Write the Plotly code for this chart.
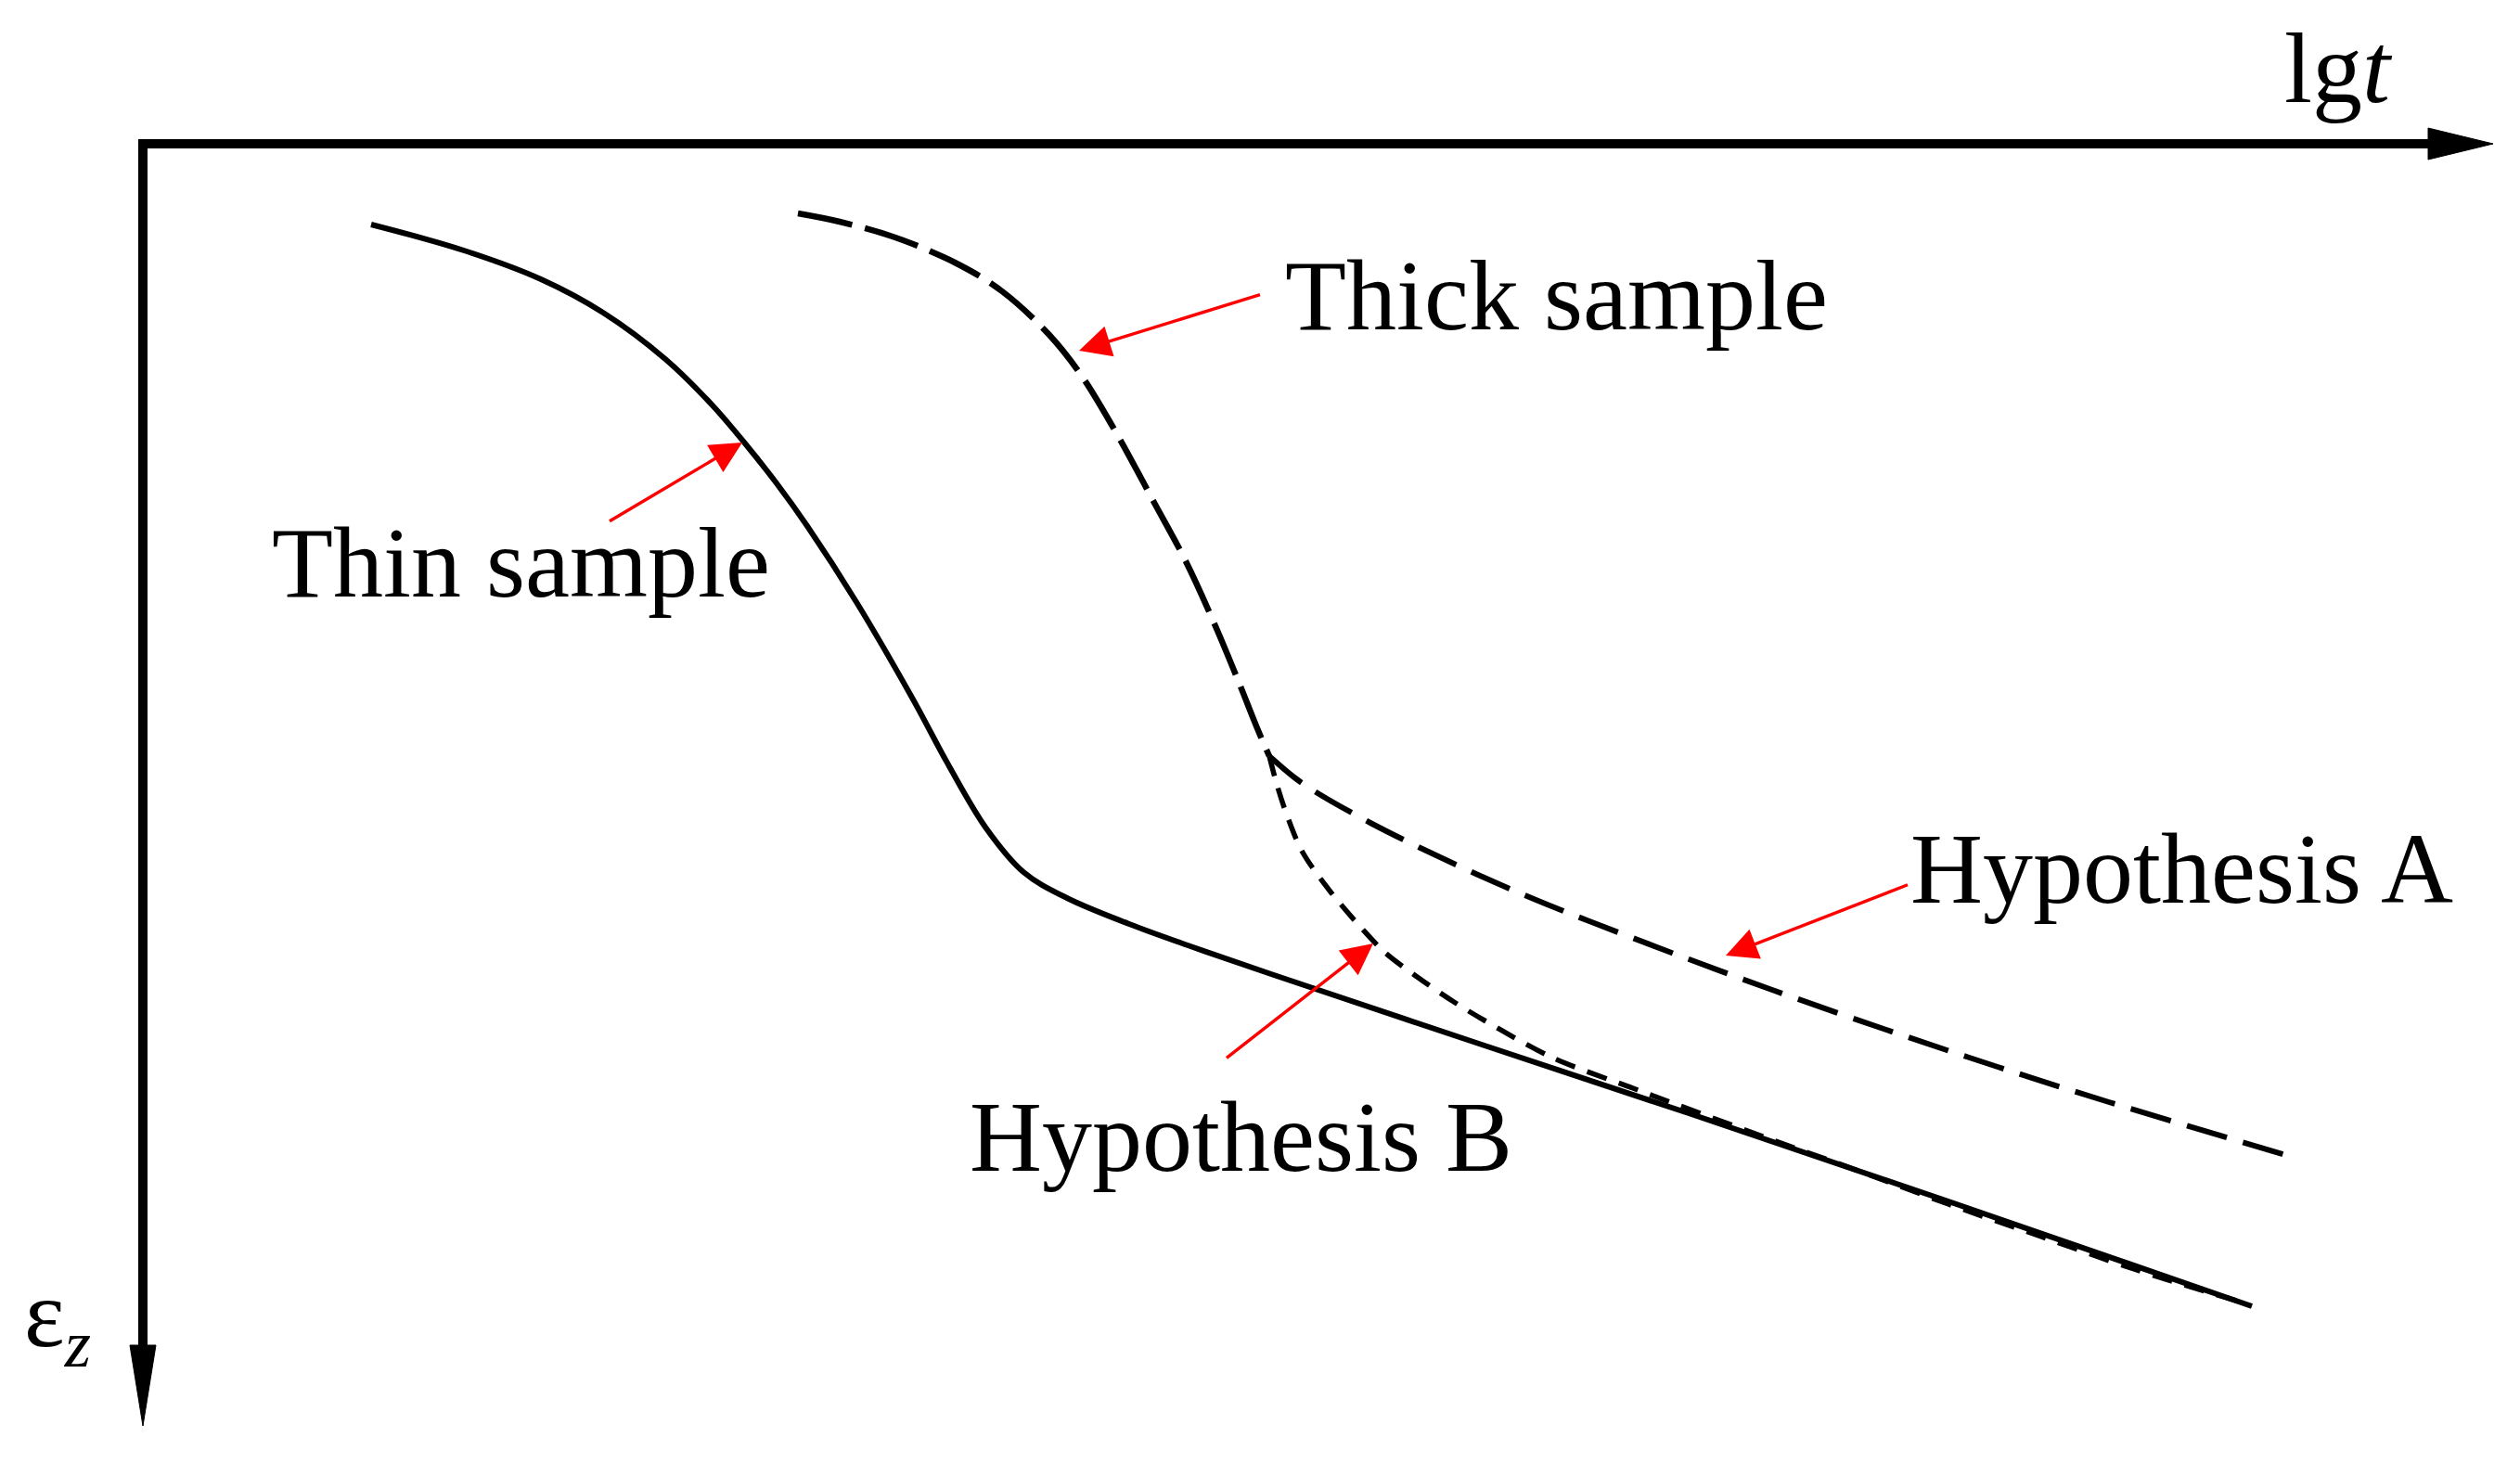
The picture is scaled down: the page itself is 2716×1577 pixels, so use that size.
import plotly.graph_objects as go

# ---- data (lg t in arbitrary units, strain eps_z increasing downward) ----
thin_x = [2.46, 3.46, 4.29, 4.96, 5.63, 6.13, 6.49, 6.83, 7.16, 7.69, 8.29, 8.69,
          9.09, 9.49, 9.96, 10.63, 11.29, 12.16, 14.46, 16.66, 19.46, 22.73]
thin_y = [0.87, 1.15, 1.46, 1.82, 2.32, 2.81, 3.23, 3.66, 4.12, 4.94, 5.97, 6.71,
          7.38, 7.85, 8.13, 8.41, 8.65, 8.95, 9.72, 10.45, 11.40, 12.53]

thick_x = [7.06, 7.51, 8.11, 8.79, 9.26, 9.76, 10.11, 10.51, 10.89, 11.24, 11.56, 11.81, 12.01, 12.14]
thick_y = [0.75, 0.84, 1.01, 1.30, 1.59, 2.05, 2.49, 3.15, 3.85, 4.50, 5.20, 5.80, 6.30, 6.60]

hypA_x = [12.14, 12.41, 12.63, 13.23, 13.79, 14.39, 14.99, 15.59, 16.61, 17.56, 18.79, 19.99, 21.19, 23.23]
hypA_y = [6.60, 6.83, 6.98, 7.32, 7.60, 7.88, 8.14, 8.38, 8.77, 9.12, 9.55, 9.95, 10.33, 10.94]

hypB_x = [12.14, 12.22, 12.31, 12.49, 12.79, 13.13, 13.39, 13.79, 14.13, 14.46, 15.19, 16.06,
          16.46, 17.46, 18.46, 19.46, 20.46, 21.46, 22.66]
hypB_y = [6.60, 6.90, 7.18, 7.62, 8.05, 8.45, 8.72, 9.02, 9.25, 9.45, 9.85, 10.18,
          10.33, 10.70, 11.06, 11.43, 11.78, 12.13, 12.50]

# axis extents (arrow tips) and view range
AXIS_X_END = 25.33
AXIS_Y_END = 13.82
X_RANGE = [-1.46, 25.54]
Y_RANGE = [14.14, -1.47]

labels = ["Thick sample", "Thin sample", "Hypothesis A", "Hypothesis B"]
label_x = [12.29, 1.37, 19.03, 8.89]
label_y = [1.63, 4.51, 7.81, 10.70]
arrow_tail_x = [12.06, 5.01, 19.04, 11.66]
arrow_tail_y = [1.62, 4.08, 7.98, 9.87]
arrow_tip_x = [10.09, 6.46, 17.06, 13.26]
arrow_tip_y = [2.23, 3.22, 8.75, 8.62]

FONT = "Liberation Serif, Times New Roman, serif"

fig = go.Figure()

# axes lines
fig.add_trace(go.Scatter(x=[-0.05, AXIS_X_END - 0.6], y=[0, 0], mode="lines",
                         line=dict(color="black", width=10), hoverinfo="skip", showlegend=False))
fig.add_trace(go.Scatter(x=[0, 0], y=[-0.05, AXIS_Y_END - 0.75], mode="lines",
                         line=dict(color="black", width=10), hoverinfo="skip", showlegend=False))
# arrow heads
fig.add_trace(go.Scatter(x=[AXIS_X_END - 0.70, AXIS_X_END, AXIS_X_END - 0.70, AXIS_X_END - 0.70],
                         y=[-0.17, 0, 0.17, -0.17], mode="lines", fill="toself",
                         fillcolor="black", line=dict(color="black", width=1),
                         hoverinfo="skip", showlegend=False))
fig.add_trace(go.Scatter(x=[-0.14, 0, 0.14, -0.14],
                         y=[AXIS_Y_END - 0.87, AXIS_Y_END, AXIS_Y_END - 0.87, AXIS_Y_END - 0.87],
                         mode="lines", fill="toself", fillcolor="black",
                         line=dict(color="black", width=1), hoverinfo="skip", showlegend=False))

# curves
fig.add_trace(go.Scatter(x=thin_x, y=thin_y, mode="lines", name="Thin sample",
                         line=dict(color="black", width=6, shape="spline", smoothing=1.0)))
fig.add_trace(go.Scatter(x=thick_x, y=thick_y, mode="lines", name="Thick sample",
                         line=dict(color="black", width=6.5, shape="spline", smoothing=1.0,
                                   dash="60px,14px")))
fig.add_trace(go.Scatter(x=hypA_x, y=hypA_y, mode="lines", name="Hypothesis A",
                         line=dict(color="black", width=6, shape="spline", smoothing=1.0,
                                   dash="45px,18px")))
fig.add_trace(go.Scatter(x=hypB_x, y=hypB_y, mode="lines", name="Hypothesis B",
                         line=dict(color="black", width=5.5, shape="spline", smoothing=0.9,
                                   dash="22px,14px")))

annotations = []
for t, lx, ly in zip(labels, label_x, label_y):
    annotations.append(dict(x=lx, y=ly, xref="x", yref="y", text=t, showarrow=False,
                            xanchor="left", yanchor="middle",
                            font=dict(family=FONT, size=108, color="black")))
for tx, ty, hx, hy in zip(arrow_tail_x, arrow_tail_y, arrow_tip_x, arrow_tip_y):
    annotations.append(dict(x=hx, y=hy, ax=tx, ay=ty, xref="x", yref="y", axref="x", ayref="y",
                            text=" ", showarrow=True, arrowhead=2, arrowsize=2.0, arrowwidth=3.4,
                            arrowcolor="red", standoff=0, startstandoff=0,
                            font=dict(size=2)))

# axis titles
annotations.append(dict(x=23.06, y=-0.82, xref="x", yref="y", text="lg<i>t</i>", showarrow=False,
                        xanchor="left", yanchor="middle",
                        font=dict(family=FONT, size=108, color="black")))
annotations.append(dict(x=-1.30, y=12.68, xref="x", yref="y", text="ε<sub><i>z</i></sub>",
                        showarrow=False, xanchor="left", yanchor="middle",
                        font=dict(family=FONT, size=104, color="black")))

fig.update_layout(
    width=2700, height=1561,
    margin=dict(l=0, r=0, t=0, b=0),
    paper_bgcolor="white", plot_bgcolor="white",
    showlegend=False,
    annotations=annotations,
    xaxis=dict(range=X_RANGE, visible=False, showgrid=False, zeroline=False),
    yaxis=dict(range=Y_RANGE, visible=False, showgrid=False, zeroline=False),
)

fig.write_html("out.html")
